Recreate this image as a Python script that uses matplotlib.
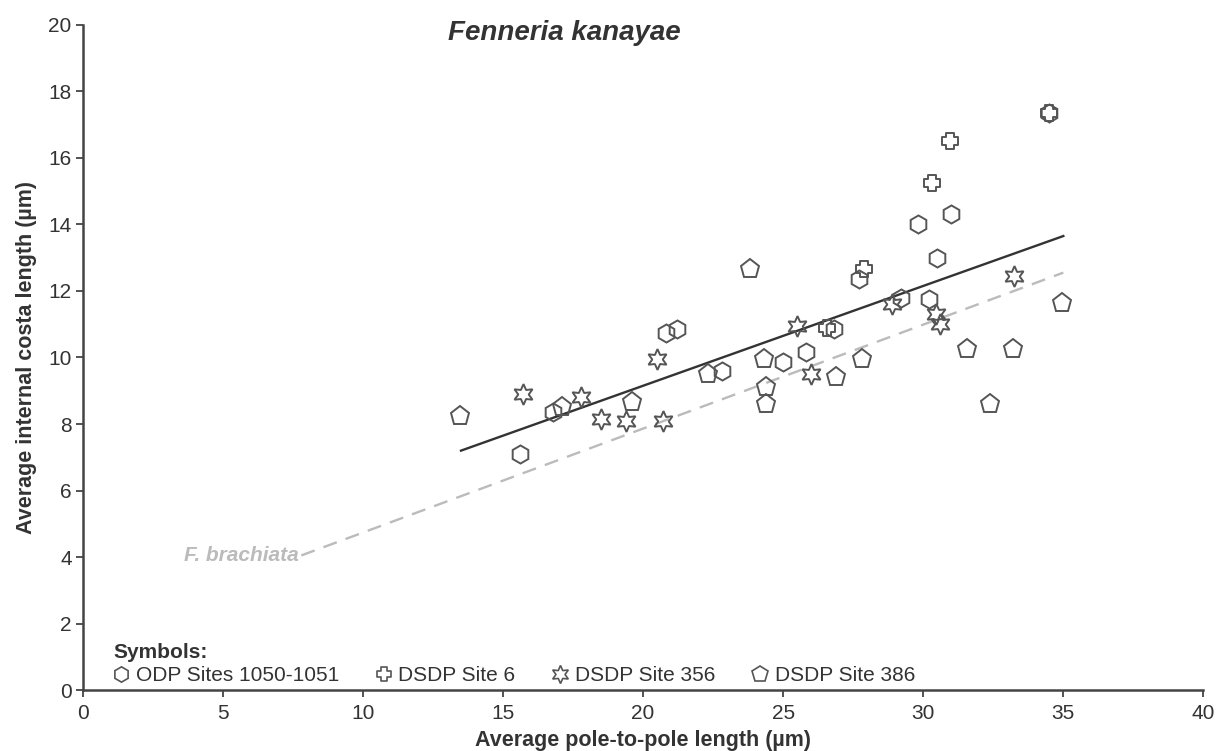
import matplotlib.pyplot as plt
from matplotlib.lines import Line2D
from matplotlib.path import Path

plt.rcParams['font.family'] = ['Liberation Sans', 'DejaVu Sans']

# ODP Sites 1050-1051 (hexagons)
odp_x = [15.6, 16.8, 20.8, 21.2, 22.8, 25.0, 25.8, 26.8, 27.7, 29.2, 29.8, 30.2, 30.5, 31.0, 34.5]
odp_y = [7.1, 8.35, 10.75, 10.85, 9.6, 9.85, 10.15, 10.85, 12.35, 11.8, 14.0, 11.75, 13.0, 14.3, 17.35]

# DSDP Site 6 (crosses)
dsdp6_x = [26.55, 27.9, 30.3, 30.95, 34.5]
dsdp6_y = [10.9, 12.65, 15.25, 16.5, 17.35]

# DSDP Site 356 (stars)
dsdp356_x = [15.7, 17.8, 18.5, 19.4, 20.5, 20.7, 25.5, 26.0, 28.9, 30.45, 30.6, 33.25]
dsdp356_y = [8.9, 8.8, 8.15, 8.1, 9.95, 8.1, 10.95, 9.5, 11.6, 11.3, 11.0, 12.45]

# DSDP Site 386 (pentagons)
dsdp386_x = [13.45, 17.1, 19.6, 22.3, 23.8, 24.3, 24.4, 24.4, 26.9, 27.8, 31.55, 32.4, 33.2, 34.95]
dsdp386_y = [8.25, 8.5, 8.65, 9.5, 12.65, 9.95, 9.1, 8.6, 9.4, 9.95, 10.25, 8.6, 10.25, 11.65]

# regression lines
trend_x = [13.5, 35.0]
trend_y = [7.2, 13.65]
brachiata_x = [7.8, 35.0]
brachiata_y = [4.05, 12.55]

# stubby plus outline for DSDP Site 6
w = 0.24
plus = Path([(-w, 0.5), (w, 0.5), (w, w), (0.5, w), (0.5, -w), (w, -w), (w, -0.5),
             (-w, -0.5), (-w, -w), (-0.5, -w), (-0.5, w), (-w, w), (-w, 0.5)], closed=True)
star = (6, 1, 0)

fig = plt.figure(figsize=(12.18, 7.51), dpi=100)
ax = fig.add_axes([0.068, 0.081, 0.92, 0.886])

ec = '#555555'
ax.plot(brachiata_x, brachiata_y, color='#bbbbbb', lw=1.7, dashes=(6, 4), zorder=1)
ax.plot(trend_x, trend_y, color='#333333', lw=1.7, zorder=2)

kw = dict(linestyle='none', markerfacecolor='none', markeredgecolor=ec, markeredgewidth=1.4, zorder=3)
ax.plot(odp_x, odp_y, marker='h', markersize=13, **kw)
ax.plot(dsdp6_x, dsdp6_y, marker=plus, markersize=11, **kw)
ax.plot(dsdp356_x, dsdp356_y, marker=star, markersize=15, **kw)
ax.plot(dsdp386_x, dsdp386_y, marker='p', markersize=14, **kw)

ax.text(brachiata_x[0] - 0.1, brachiata_y[0], 'F. brachiata', ha='right', va='center',
        color='#bbbbbb', fontsize=15, fontweight='bold', fontstyle='italic')

ax.set_xlim(0, 40)
ax.set_ylim(0, 20)
ax.set_xticks(range(0, 41, 5))
ax.set_yticks(range(0, 21, 2))
for s in ['top', 'right']:
    ax.spines[s].set_visible(False)
for s in ['left', 'bottom']:
    ax.spines[s].set_color('#444444')
    ax.spines[s].set_linewidth(1.8)
ax.tick_params(direction='out', length=5, width=1.3, color='#444444', labelsize=15,
               labelcolor='#333333', pad=3)
ax.tick_params(axis='x', pad=5)

ax.set_xlabel('Average pole-to-pole length (µm)', fontsize=15.5, fontweight='bold', color='#333333', labelpad=5)
ax.set_ylabel('Average internal costa length (µm)', fontsize=15.5, fontweight='bold', color='#333333', labelpad=8)
ax.set_title('Fenneria kanayae', fontsize=20, fontweight='bold', fontstyle='italic', color='#333333',
             x=0.43, y=0.965)

lkw = dict(linestyle='none', markerfacecolor='none', markeredgecolor=ec, markeredgewidth=1.2)
handles = [Line2D([], [], marker='h', markersize=11, **lkw),
           Line2D([], [], marker=plus, markersize=10, **lkw),
           Line2D([], [], marker=star, markersize=13, **lkw),
           Line2D([], [], marker='p', markersize=12, **lkw)]
labels = ['ODP Sites 1050-1051', 'DSDP Site 6', 'DSDP Site 356', 'DSDP Site 386']
leg = ax.legend(handles, labels, ncol=4, loc='lower left', bbox_to_anchor=(0.012, -0.017),
                frameon=False, fontsize=15, handlelength=0.8, handletextpad=0.3,
                columnspacing=1.75, title='Symbols:', alignment='left', labelspacing=0.2,
                borderpad=0.3, title_fontproperties={'weight': 'bold', 'size': 15})
for t in leg.get_texts():
    t.set_color('#333333')
leg.get_title().set_color('#333333')

fig.savefig('out.png', dpi=100)
